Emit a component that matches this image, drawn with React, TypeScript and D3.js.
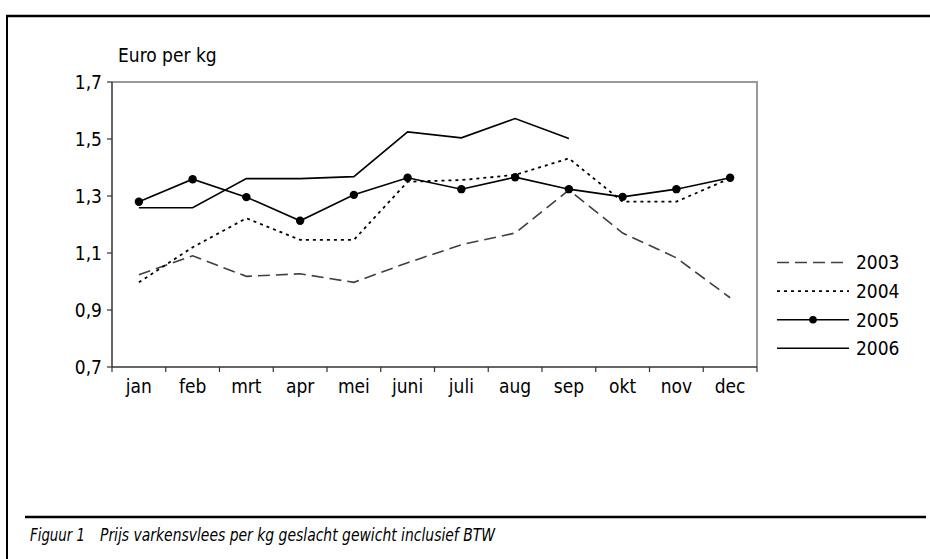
import React from 'react';
import * as d3 from 'd3';

const months = ['jan', 'feb', 'mrt', 'apr', 'mei', 'juni', 'juli', 'aug', 'sep', 'okt', 'nov', 'dec'];
const yTicks = [0.7, 0.9, 1.1, 1.3, 1.5, 1.7];

const v2003 = [1.024, 1.09, 1.018, 1.027, 0.997, 1.066, 1.129, 1.17, 1.321, 1.17, 1.083, 0.943];
const v2004 = [0.997, 1.12, 1.222, 1.146, 1.146, 1.35, 1.356, 1.374, 1.432, 1.28, 1.28, 1.362];
const v2005 = [1.28, 1.359, 1.296, 1.213, 1.304, 1.364, 1.324, 1.366, 1.324, 1.297, 1.324, 1.364];
const v2006 = [1.259, 1.259, 1.361, 1.361, 1.368, 1.525, 1.504, 1.572, 1.502];

const series = [
  { name: '2003', values: v2003, color: '#404040', dash: '12,6', width: 1.6, dots: false },
  { name: '2004', values: v2004, color: '#000', dash: '3,4', width: 1.8, dots: false },
  { name: '2005', values: v2005, color: '#000', dash: null, width: 1.6, dots: true },
  { name: '2006', values: v2006, color: '#000', dash: null, width: 1.6, dots: false },
];

const W = 930, H = 559;
const plot = { left: 112, top: 82, right: 757, bottom: 367 };
const font = "'DejaVu Sans Condensed', 'DejaVu Sans', sans-serif";

export default function App() {
  const x = d3.scaleBand().domain(months).range([plot.left, plot.right]);
  const y = d3.scaleLinear().domain([0.7, 1.7]).range([plot.bottom, plot.top]);
  const cx = (i: number) => (x(months[i]) as number) + x.bandwidth() / 2;
  const line = d3.line<number>().x((_, i) => cx(i)).y(d => y(d));

  return (
    <svg width={W} height={H} style={{ position: 'absolute', left: 0, top: 0, background: '#fff' }}
      fontFamily={font}>
      {/* outer frame */}
      <line x1={6} x2={W} y1={16} y2={16} stroke="#000" strokeWidth={2.5} />
      <line x1={7} x2={7} y1={15} y2={H} stroke="#000" strokeWidth={2} />
      <line x1={25} x2={926} y1={517} y2={517} stroke="#000" strokeWidth={2.5} />
      <text x={30} y={541} fontSize={18} fontStyle="italic" textLength={55} lengthAdjust="spacingAndGlyphs">
        Figuur 1
      </text>
      <text x={100} y={541} fontSize={18} fontStyle="italic" textLength={395} lengthAdjust="spacingAndGlyphs">
        Prijs varkensvlees per kg geslacht gewicht inclusief BTW
      </text>

      {/* plot border */}
      <path d={`M${plot.left},${plot.top}H${plot.right}V${plot.bottom}`} fill="none" stroke="#999" strokeWidth={2} />
      <line x1={plot.left} x2={plot.left} y1={plot.top} y2={plot.bottom} stroke="#333" strokeWidth={1.5} />
      <line x1={plot.left} x2={plot.right} y1={plot.bottom} y2={plot.bottom} stroke="#333" strokeWidth={1.5} />

      {yTicks.map(t => (
        <g key={t}>
          <line x1={plot.left - 5} x2={plot.left} y1={y(t)} y2={y(t)} stroke="#333" strokeWidth={1.2} />
          <text x={plot.left - 10} y={y(t)} dy="0.36em" textAnchor="end" fontSize={19}>
            {d3.format('.1f')(t).replace('.', ',')}
          </text>
        </g>
      ))}
      {months.map((m, i) => (
        <g key={m}>
          <line x1={(x(m) as number) + x.bandwidth()} x2={(x(m) as number) + x.bandwidth()}
            y1={plot.bottom} y2={plot.bottom + 5} stroke="#333" strokeWidth={1.2} />
          <text x={cx(i)} y={plot.bottom + 26} textAnchor="middle" fontSize={19}>{m}</text>
        </g>
      ))}
      <line x1={plot.left} x2={plot.left} y1={plot.bottom} y2={plot.bottom + 5} stroke="#333" strokeWidth={1.2} />
      <text x={118} y={62} fontSize={19}>Euro per kg</text>

      {series.map(s => (
        <g key={s.name}>
          <path d={line(s.values) as string} fill="none" stroke={s.color} strokeWidth={s.width}
            strokeDasharray={s.dash ?? undefined} />
          {s.dots && s.values.map((v, i) => (
            <circle key={i} cx={cx(i)} cy={y(v)} r={4.2} fill="#000" />
          ))}
        </g>
      ))}

      {/* legend */}
      {series.map((s, i) => {
        const ly = 262.5 + i * 28.6;
        return (
          <g key={s.name}>
            <line x1={777} x2={849} y1={ly} y2={ly} stroke={s.color} strokeWidth={s.width}
              strokeDasharray={s.dash ?? undefined} />
            {s.dots && <circle cx={813} cy={ly} r={3.8} fill="#000" />}
            <text x={856} y={ly} dy="0.36em" fontSize={19}>{s.name}</text>
          </g>
        );
      })}
    </svg>
  );
}
